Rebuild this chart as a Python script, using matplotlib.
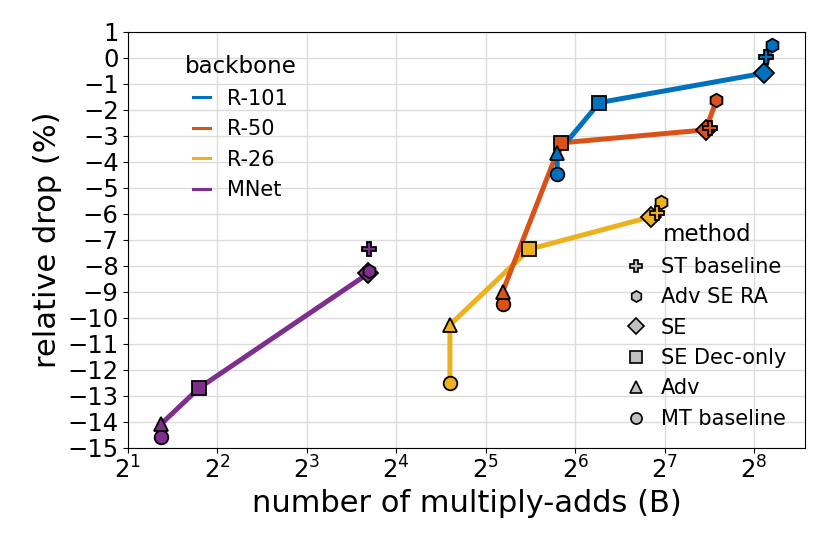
import matplotlib
matplotlib.use('Agg')
import matplotlib.pyplot as plt
from matplotlib.lines import Line2D

# multiply-adds (B) and relative drop (%) per backbone
backbones = ['R-101', 'R-50', 'R-26', 'MNet']
colors = ['#0072BD', '#D95319', '#EDB120', '#7E2F8E']

methods = ['ST baseline', 'Adv SE RA', 'SE', 'SE Dec-only', 'Adv', 'MT baseline']
markers = ['P', 'h', 'D', 's', '^', 'o']

# order of values follows `methods`
madds = {
    'R-101': [280.0, 294.0, 276.0, 77.2, 55.7, 55.7],
    'R-50': [182.0, 191.0, 176.0, 57.3, 36.5, 36.5],
    'R-26': [121.0, 124.5, 115.4, 44.9, 24.25, 24.25],
    'MNet': [13.0, 13.0, 12.9, 3.48, 2.585, 2.585],
}
drop = {
    'R-101': [0.02, 0.47, -0.6, -1.73, -3.68, -4.47],
    'R-50': [-2.72, -1.65, -2.78, -3.28, -9.0, -9.47],
    'R-26': [-5.96, -5.54, -6.12, -7.37, -10.28, -12.52],
    'MNet': [-7.35, -8.2, -8.3, -12.7, -14.1, -14.6],
}

# methods joined by the line, in drawing order
line_methods = ['MT baseline', 'Adv', 'SE Dec-only', 'SE', 'Adv SE RA']

fig, ax = plt.subplots(figsize=(8.3, 5.54), dpi=100)
fig.subplots_adjust(left=0.154, right=0.970, top=0.943, bottom=0.192)

for name in ['MNet', 'R-26', 'R-50', 'R-101']:
    c = colors[backbones.index(name)]
    xs = [madds[name][methods.index(m)] for m in line_methods]
    ys = [drop[name][methods.index(m)] for m in line_methods]
    ax.plot(xs, ys, color=c, lw=3.6, solid_capstyle='butt', zorder=2)
    for i in reversed(range(len(methods))):
        ax.plot(madds[name][i], drop[name][i], linestyle='none',
                marker=markers[i], markersize=9.8, markerfacecolor=c,
                markeredgecolor='black', markeredgewidth=1.3, zorder=3)

ax.set_xscale('log', base=2)
ax.set_xlim(2, 2 ** 8.57)
ax.set_ylim(-15, 1)
ax.set_yticks(range(-15, 2))
ax.grid(True, color='#dcdcdc', lw=1)
ax.set_axisbelow(True)
ax.tick_params(labelsize=17.5, pad=3)
ax.set_xlabel('number of multiply-adds (B)', fontsize=22)
ax.set_ylabel('relative drop (%)', fontsize=22)

bb_handles = [Line2D([], [], color=c, lw=2.2) for c in colors]
leg1 = ax.legend(bb_handles, backbones, title='backbone', loc='upper left',
                 bbox_to_anchor=(0.056, 0.988), frameon=False, fontsize=15,
                 title_fontsize=16.5, handlelength=0.8)
ax.add_artist(leg1)

m_handles = [Line2D([], [], linestyle='none', marker=mk, markersize=8,
                    markerfacecolor='#c0c0c0', markeredgecolor='black',
                    markeredgewidth=1.2) for mk in markers]
ax.legend(m_handles, methods, title='method', loc='lower right',
          frameon=False, fontsize=15, title_fontsize=16.5,
          handlelength=0.8, labelspacing=0.5)

fig.savefig('out.png', dpi=100)
